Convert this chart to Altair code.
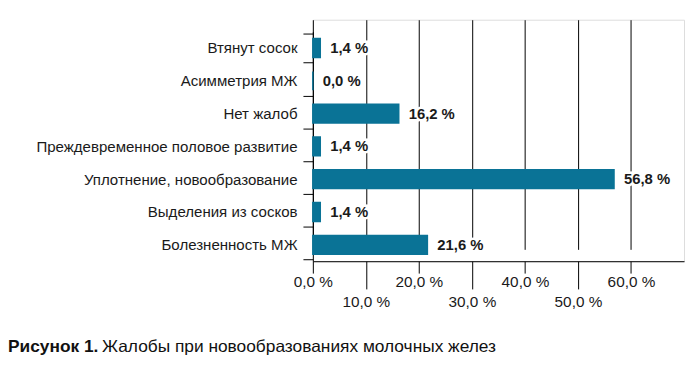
import altair as alt
import pandas as pd

categories = [
    "Втянут сосок",
    "Асимметрия МЖ",
    "Нет жалоб",
    "Преждевременное половое развитие",
    "Уплотнение, новообразование",
    "Выделения из сосков",
    "Болезненность МЖ",
]
values = [1.4, 0.0, 16.2, 1.4, 56.8, 1.4, 21.6]
x_ticks = [0, 10, 20, 30, 40, 50, 60]
caption_bold = "Рисунок 1."
caption_text = "Жалобы при новообразованиях молочных желез"

FONT = "Liberation Sans"
BAR = "#0a7396"

df = pd.DataFrame({"cat": categories, "val": values})

label_calc = "replace(format(datum.val, '.1f'), '.', ',') + ' %'"

y_enc = alt.Y(
    "cat:N",
    sort=categories,
    title=None,
    scale=alt.Scale(domain=categories, range=[12, 244]),
    axis=alt.Axis(
        grid=False,
        domainColor="black",
        tickColor="black",
        tickSize=10,
        tickBand="extent",
        labelPadding=6,
        labelFont=FONT,
        labelFontSize=15.2,
        labelColor="#1a1a1a",
        labelLimit=400,
    ),
)

x_enc = alt.X(
    "val:Q",
    title=None,
    scale=alt.Scale(domain=[0, 70.0], nice=False, zero=True),
    axis=alt.Axis(
        values=x_ticks,
        grid=True,
        gridColor="black",
        gridWidth=1,
        gridOpacity=1,
        domainColor="black",
        tickColor="black",
        tickSize={"condition": {"test": "datum.value % 20 == 10", "value": 28}, "value": 12},
        labelPadding={"condition": {"test": "datum.value % 20 == 10", "value": 6}, "value": 2},
        labelExpr="replace(format(datum.value, '.1f'), '.', ',') + ' %'",
        labelFont=FONT,
        labelFontSize=15.5,
        labelColor="#1a1a1a",
        labelBaseline="top",
        labelFlush=False,
        labelOverlap=False,
    ),
)

base = alt.Chart(df)

bars = base.mark_bar(size=19, color=BAR, stroke=BAR, strokeWidth=1.5).encode(x=x_enc, y=y_enc)

halo = base.mark_text(
    align="left", baseline="middle", dx=10, font=FONT, fontSize=15, fontWeight="bold",
    color="white", stroke="white", strokeWidth=5,
).transform_calculate(lab=label_calc).encode(x="val:Q", y=alt.Y("cat:N", sort=categories), text="lab:N")

texts = base.mark_text(
    align="left", baseline="middle", dx=10, font=FONT, fontSize=15, fontWeight="bold",
    color="#1a1a1a",
).transform_calculate(lab=label_calc).encode(x="val:Q", y=alt.Y("cat:N", sort=categories), text="lab:N")

cap1 = alt.Chart(pd.DataFrame({"t": [caption_bold]})).mark_text(
    align="left", baseline="alphabetic", font=FONT, fontSize=17.5, fontWeight="bold", color="#111111"
).encode(x=alt.value(-308), y=alt.value(336), text="t:N")

cap2 = alt.Chart(pd.DataFrame({"t": [caption_text]})).mark_text(
    align="left", baseline="alphabetic", font=FONT, fontSize=17.5, color="#111111"
).encode(x=alt.value(-213), y=alt.value(336), text="t:N")

chart = alt.layer(bars, halo, texts, cap1, cap2).properties(
    width=375,
    height=244,
    autosize=alt.AutoSizeParams(type="none"),
    padding={"left": 308, "top": 10, "right": 1, "bottom": 100},
).configure_view(stroke=None).configure(background="white")

chart.save("out.html", embed_options={"renderer": "svg", "actions": False})
